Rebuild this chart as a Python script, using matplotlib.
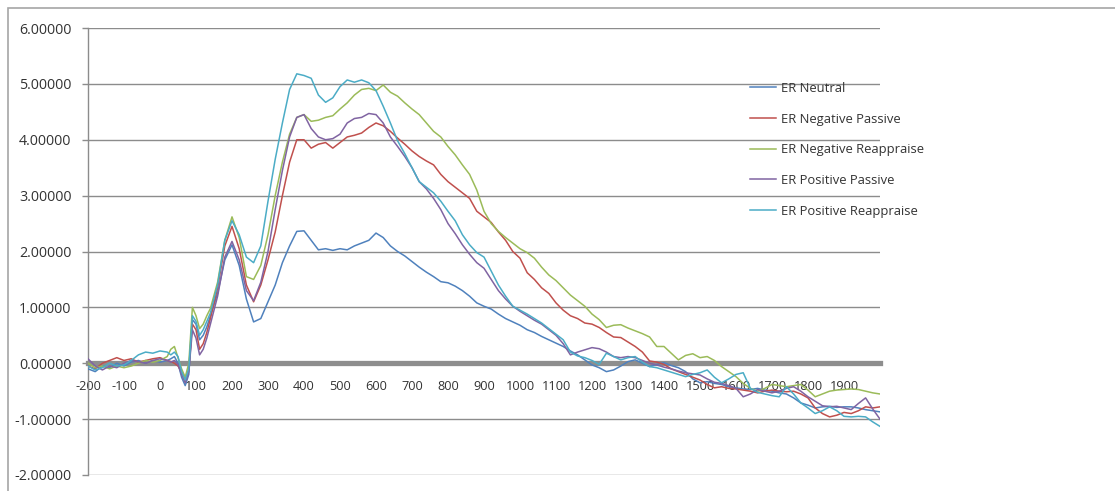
import matplotlib
matplotlib.use("Agg")
import matplotlib.pyplot as plt
from matplotlib.ticker import FormatStrFormatter
from matplotlib.patches import Rectangle

plt.rcParams['font.family'] = ['Open Sans', 'DejaVu Sans']

# time points (ms)
t_pre = list(range(-200, 21, 20))          # -200..20
t_early = list(range(30, 141, 10))         # 30..140
t_main = list(range(160, 2001, 20))        # 160..2000
times = t_pre + t_early + t_main

series_names = ["ER Neutral", "ER Negative Passive", "ER Negative Reappraise",
                "ER Positive Passive", "ER Positive Reappraise"]
series_colors = ["#4F81BD", "#C0504D", "#9BBB59", "#8064A2", "#4BACC6"]

er_neutral = (
    [-0.10, -0.15, -0.05, -0.08, 0.00, -0.05, 0.02, 0.05, 0.00, 0.05, 0.02, 0.05]
    + [0.08, 0.12, 0.00, -0.25, -0.40, -0.20, 0.78, 0.70, 0.42, 0.50, 0.65, 0.85]
    + [1.25, 1.85, 2.12, 1.75, 1.15, 0.74, 0.80, 1.10, 1.40, 1.80, 2.10, 2.36, 2.37]
    + [2.20, 2.03, 2.05, 2.02, 2.05, 2.03, 2.10, 2.15, 2.20, 2.33, 2.25, 2.10, 2.00, 1.92, 1.82, 1.72, 1.63, 1.55, 1.46, 1.44]
    + [1.38, 1.30, 1.20, 1.08, 1.02, 0.97, 0.88, 0.80, 0.74, 0.68, 0.60, 0.55, 0.48, 0.42, 0.36, 0.30, 0.22, 0.15, 0.06, -0.03]
    + [-0.08, -0.15, -0.12, -0.05, 0.03, 0.06, 0.00, -0.06, -0.02, 0.01, -0.04, -0.08, -0.15, -0.28, -0.35, -0.33, -0.36, -0.38, -0.42, -0.44]
    + [-0.46, -0.47, -0.45, -0.48, -0.50, -0.53, -0.55, -0.62, -0.71, -0.75, -0.80, -0.78, -0.77, -0.79, -0.78, -0.78, -0.80, -0.83, -0.85, -0.87]
)

er_negative_passive = (
    [-0.05, -0.10, 0.00, 0.05, 0.10, 0.05, 0.08, 0.02, 0.05, 0.08, 0.10, 0.05]
    + [0.03, 0.00, -0.05, -0.15, -0.30, -0.10, 0.70, 0.60, 0.25, 0.35, 0.55, 0.80]
    + [1.35, 2.10, 2.45, 2.05, 1.40, 1.10, 1.40, 1.85, 2.35, 3.00, 3.60, 4.00, 4.00]
    + [3.85, 3.92, 3.95, 3.85, 3.95, 4.05, 4.08, 4.12, 4.22, 4.30, 4.25, 4.15, 4.03, 3.92, 3.80, 3.70, 3.62, 3.55, 3.38, 3.25]
    + [3.15, 3.05, 2.95, 2.72, 2.62, 2.52, 2.35, 2.20, 2.00, 1.88, 1.62, 1.50, 1.35, 1.25, 1.08, 0.95, 0.85, 0.80, 0.72, 0.70]
    + [0.64, 0.55, 0.47, 0.46, 0.38, 0.30, 0.20, 0.04, 0.02, -0.02, -0.10, -0.15, -0.20, -0.25, -0.30, -0.38, -0.44, -0.42, -0.45, -0.46]
    + [-0.48, -0.50, -0.53, -0.50, -0.48, -0.50, -0.51, -0.50, -0.55, -0.62, -0.80, -0.90, -0.96, -0.93, -0.88, -0.90, -0.85, -0.78, -0.80, -0.78]
)

er_negative_reappraise = (
    [0.00, -0.08, -0.05, -0.10, -0.05, -0.08, -0.05, 0.00, 0.05, 0.02, 0.05, 0.12]
    + [0.25, 0.30, 0.10, -0.10, -0.25, 0.00, 1.00, 0.85, 0.62, 0.70, 0.85, 0.98]
    + [1.45, 2.20, 2.62, 2.25, 1.55, 1.50, 1.75, 2.30, 3.00, 3.60, 4.10, 4.40, 4.45]
    + [4.33, 4.35, 4.40, 4.43, 4.55, 4.66, 4.80, 4.90, 4.92, 4.88, 4.98, 4.85, 4.78, 4.66, 4.55, 4.45, 4.30, 4.15, 4.05, 3.88]
    + [3.73, 3.55, 3.38, 3.10, 2.72, 2.50, 2.36, 2.25, 2.15, 2.05, 1.98, 1.88, 1.72, 1.58, 1.48, 1.35, 1.22, 1.12, 1.02, 0.88]
    + [0.78, 0.64, 0.68, 0.69, 0.63, 0.58, 0.53, 0.47, 0.30, 0.30, 0.18, 0.06, 0.14, 0.17, 0.10, 0.12, 0.05, -0.06, -0.15, -0.24]
    + [-0.36, -0.45, -0.50, -0.45, -0.38, -0.40, -0.42, -0.40, -0.38, -0.48, -0.60, -0.55, -0.50, -0.48, -0.47, -0.46, -0.47, -0.50, -0.53, -0.55]
)

er_positive_passive = (
    [0.08, -0.05, -0.12, -0.05, -0.08, 0.00, 0.05, 0.03, 0.00, 0.05, 0.08, 0.05]
    + [0.02, 0.05, -0.02, -0.20, -0.35, -0.15, 0.60, 0.45, 0.15, 0.25, 0.45, 0.70]
    + [1.20, 1.90, 2.18, 1.85, 1.30, 1.12, 1.45, 2.00, 2.75, 3.45, 4.05, 4.40, 4.45]
    + [4.20, 4.05, 4.00, 4.02, 4.10, 4.30, 4.38, 4.40, 4.47, 4.45, 4.30, 4.05, 3.88, 3.70, 3.50, 3.25, 3.12, 2.95, 2.75, 2.50]
    + [2.32, 2.12, 1.95, 1.80, 1.70, 1.50, 1.30, 1.15, 1.02, 0.93, 0.85, 0.77, 0.70, 0.60, 0.50, 0.35, 0.15, 0.20, 0.24, 0.28]
    + [0.26, 0.20, 0.12, 0.10, 0.12, 0.10, 0.05, 0.00, -0.03, -0.07, -0.10, -0.14, -0.17, -0.19, -0.21, -0.28, -0.34, -0.36, -0.40, -0.45]
    + [-0.60, -0.55, -0.47, -0.50, -0.53, -0.50, -0.45, -0.42, -0.50, -0.60, -0.68, -0.76, -0.78, -0.77, -0.80, -0.83, -0.72, -0.62, -0.82, -1.00]
)

er_positive_reappraise = (
    [-0.05, -0.12, -0.08, 0.00, -0.05, -0.03, 0.05, 0.15, 0.20, 0.18, 0.22, 0.20]
    + [0.15, 0.20, 0.12, -0.15, -0.30, -0.10, 0.85, 0.75, 0.50, 0.60, 0.75, 0.90]
    + [1.40, 2.20, 2.55, 2.30, 1.90, 1.80, 2.10, 2.90, 3.65, 4.30, 4.90, 5.18, 5.15]
    + [5.10, 4.80, 4.67, 4.75, 4.95, 5.07, 5.03, 5.07, 5.02, 4.88, 4.60, 4.30, 3.98, 3.75, 3.50, 3.25, 3.15, 3.05, 2.90, 2.72]
    + [2.55, 2.30, 2.12, 1.98, 1.90, 1.65, 1.40, 1.20, 1.02, 0.95, 0.88, 0.80, 0.72, 0.62, 0.52, 0.42, 0.20, 0.13, 0.10, 0.05]
    + [-0.02, 0.18, 0.12, 0.06, 0.10, 0.12, 0.02, -0.06, -0.08, -0.12, -0.16, -0.20, -0.24, -0.20, -0.17, -0.12, -0.25, -0.35, -0.28, -0.20]
    + [-0.17, -0.45, -0.52, -0.55, -0.58, -0.60, -0.42, -0.55, -0.71, -0.80, -0.90, -0.85, -0.78, -0.85, -0.95, -0.96, -0.95, -0.96, -1.05, -1.13]
)

all_series = [er_neutral, er_negative_passive, er_negative_reappraise,
              er_positive_passive, er_positive_reappraise]

x_tick_values = list(range(-200, 2000, 100))
x_tick_labels = [str(v) for v in x_tick_values]
y_tick_values = list(range(-2, 7))

W, H = 1115, 491
fig = plt.figure(figsize=(W / 100, H / 100), dpi=100)
fig.patch.set_facecolor("white")

# outer chart border (top and left visible)
fig.patches.append(Rectangle((8 / W, -0.2), 1.2, 1.2 - 8 / H, transform=fig.transFigure,
                             fill=False, edgecolor="#a6a6a6", linewidth=1.2))

ax = fig.add_axes([88 / W, 16 / H, 792 / W, 447 / H])
ax.set_xlim(-200, 2000)
ax.set_ylim(-2, 6)

for vals, name, col in zip(all_series, series_names, series_colors):
    ax.plot(times, vals, color=col, lw=1.1, label=name, zorder=3)

ax.set_yticks(y_tick_values)
ax.yaxis.set_major_formatter(FormatStrFormatter('%.5f'))
ax.grid(axis='y', color='#8c8c8c', lw=1.0, zorder=0)
ax.set_axisbelow(True)

for s in ["top", "right"]:
    ax.spines[s].set_visible(False)
ax.spines["left"].set_color("#8c8c8c")
ax.spines["left"].set_linewidth(1.0)
ax.spines["bottom"].set_position(("data", 0))
ax.spines["bottom"].set_color("#8e8e8e")
ax.spines["bottom"].set_linewidth(3.8)
ax.spines["bottom"].set_zorder(2)

ax.set_xticks(x_tick_values)
ax.set_xticklabels(x_tick_labels)
ax.tick_params(axis='x', length=0, pad=12, labelsize=9.2, labelcolor="#333333")
ax.tick_params(axis='y', length=4, width=1.0, color="#8c8c8c", pad=8, labelsize=10.3,
               labelcolor="#333333", direction="out")

leg = ax.legend(loc="upper left", bbox_to_anchor=(750 / W, 1 - 82 / H),
                bbox_transform=fig.transFigure, frameon=False, fontsize=9.4,
                handlelength=2.0, handletextpad=0.4, labelspacing=1.35,
                borderpad=0, borderaxespad=0)
for txt in leg.get_texts():
    txt.set_color("#333333")

fig.savefig("out.png", dpi=100, facecolor="white")
